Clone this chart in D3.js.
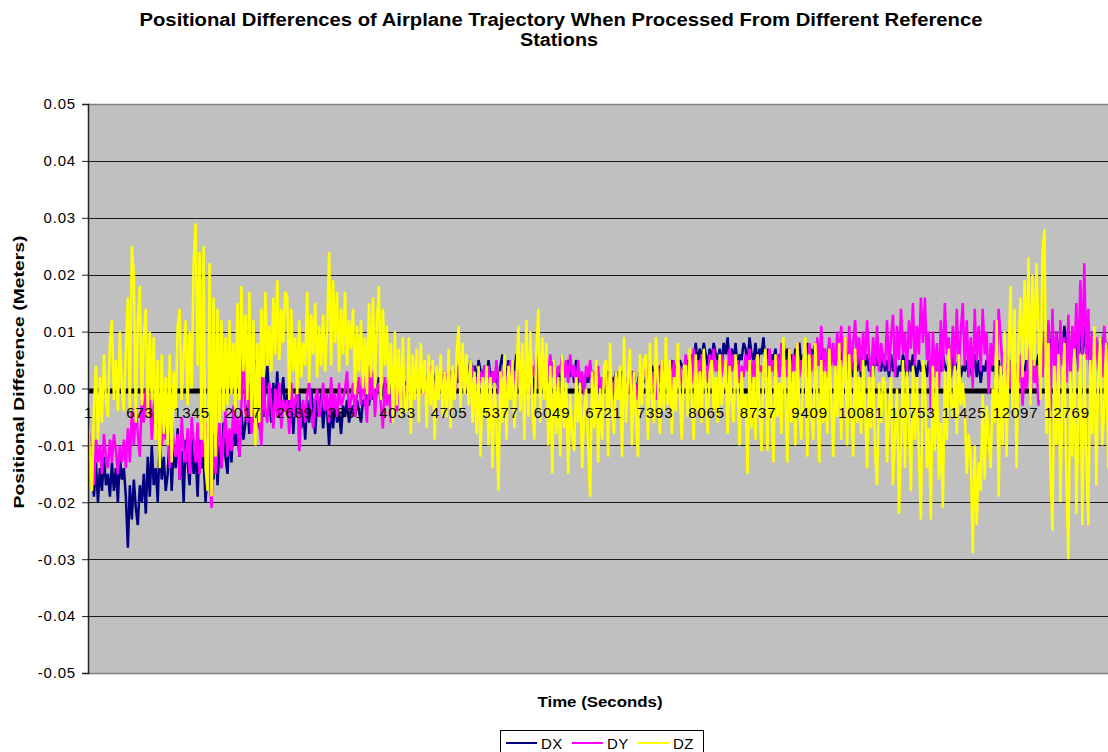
<!DOCTYPE html>
<html>
<head>
<meta charset="utf-8">
<script src="https://cdn.jsdelivr.net/npm/d3@7"></script>
<style>
  html, body { margin: 0; padding: 0; background: #fff; }
  svg { display: block; font-family: "Liberation Sans", Arial, sans-serif; }
</style>
</head>
<body>
<svg id="chart" width="1108" height="752"></svg>
<script>
// ---- data (values in millimetres, one sample every 26 s starting at t = 1) ----
const sampleStart = 1;
const sampleStep = 26;
const seriesNames = ["DX", "DY", "DZ"];
const seriesColors = ["#000080", "#ff00ff", "#ffff00"];
const xTickLabels = ["1","673","1345","2017","2689","3361","4033","4705","5377","6049","6721","7393","8065","8737","9409","10081","10753","11425","12097","12769"];
const yTickValues = [0.05, 0.04, 0.03, 0.02, 0.01, 0, -0.01, -0.02, -0.03, -0.04, -0.05];

const dxMM = [
 -5,-12,-15,-19,-13,-20,-14,-18,-12,-17,-15,-19,-13,-18,-14,-20,-12,-16,-14,-19,
 -28,-17,-23,-16,-21,-24,-17,-20,-15,-22,-12,-19,-10,-17,-14,-20,-9,-16,-12,-18,
 -15,-8,-18,-10,-14,-7,-16,-11,-20,-9,-13,-17,-8,-15,-11,-19,-9,-14,-12,-20,
 -14,8,-12,-16,-8,-17,-10,-14,-6,-12,-15,-8,-13,-5,-10,-7,-12,-4,-9,-6,
 -3,-8,-1,-6,3,-4,-7,2,-5,0,4,-2,-6,1,-3,3,-5,-1,2,-4,
 -1,-6,0,-8,-2,-5,-1,-7,-3,-9,-2,-6,0,-4,-8,-2,-5,-1,-7,-3,
 -4,-10,-3,-7,-2,-6,-4,-8,-3,-5,-2,-6,-4,-3,-5,-2,-4,-6,-2,-3,
 -1,-3,0,-2,1,-1,2,-2,0,1,-1,2,-2,0,1,-1,2,0,-1,1,
 1,-1,2,0,1,3,0,2,1,3,-1,2,0,3,1,2,0,3,1,2,
 2,0,3,1,2,4,1,5,2,4,1,3,5,2,4,1,5,3,2,4,
 1,5,2,3,0,2,1,4,6,3,2,5,1,4,3,6,2,4,1,3,
 2,4,1,3,0,2,4,1,5,2,3,1,4,2,5,1,3,0,4,2,
 3,5,2,4,1,5,3,0,2,-1,3,1,4,2,0,3,1,-1,2,0,
 1,3,0,2,1,3,2,1,3,2,0,2,1,3,2,0,1,3,2,1,
 2,3,1,4,2,3,1,4,2,3,4,2,3,5,2,4,3,5,4,3,
 4,5,3,6,5,8,4,7,5,8,6,4,7,5,8,6,5,7,4,8,
 6,9,4,7,5,8,3,6,5,8,7,4,9,6,5,8,4,7,6,9,
 4,7,3,6,5,7,3,6,4,8,5,7,3,6,4,7,5,8,4,6,
 5,8,4,7,5,8,4,6,5,7,6,4,8,5,7,4,6,8,5,7,
 4,6,3,7,2,5,3,6,2,5,4,6,3,5,2,6,4,5,3,6,
 3,5,2,6,3,5,2,4,3,6,4,2,5,3,6,4,2,5,3,4,
 4,2,5,3,6,4,2,5,3,6,4,3,5,2,6,3,4,5,2,4,
 3,5,2,4,3,6,2,5,1,4,3,5,2,6,3,4,1,5,2,4,
 2,4,3,5,2,4,3,5,2,4,3,5,2,4,3,5,4,6,3,5,
 9,5,11,6,9,4,10,6,8,5,11,7,9,5,10,6,8,4,10,6,
 11,6,9,4,10,6,8,5,9,6,10,5,8,6,11,7,9,5,8,6
];
const dyMM = [
 -5,-11,-14,-17,-9,-13,-10,-15,-8,-12,-14,-9,-13,-8,-11,-15,-10,-13,-9,-14,
 -7,-13,-4,-10,-3,-8,-12,-2,-6,0,-5,-1,-9,-3,-1,-7,-5,-10,-6,-9,
 -6,-14,-4,-10,-12,-8,-16,-5,-11,-13,-7,-15,-5,-9,-13,-6,-15,-9,-12,-8,
 -6,-15,-21,-8,-15,-10,-6,-14,-9,-4,-12,-7,-11,-3,-8,-5,-12,-3,9,-4,
 -6,1,-8,-2,5,-3,-6,-10,2,-4,-6,1,-3,-7,0,-5,1,-7,-2,-4,
 -2,-8,1,-5,-2,0,-11,-4,-2,-6,-1,1,-4,-7,-2,0,-5,-3,1,-4,
 -1,-6,2,-4,-1,-5,1,-3,-2,0,3,-4,-2,1,-5,-1,2,-3,3,-2,
 -6,4,-2,3,-5,0,1,-3,-7,2,-3,1,-6,-1,2,-4,0,-2,1,-3,
 0,3,-1,2,0,4,-2,3,1,-1,2,0,4,1,-2,3,0,2,1,3,
 1,4,0,3,-1,2,4,0,3,1,2,-1,3,4,1,2,0,3,1,4,
 2,4,0,3,1,5,-1,3,2,4,0,2,5,1,3,-1,4,2,3,1,
 1,5,-1,4,2,6,0,5,2,4,1,3,6,2,5,0,4,3,6,2,
 5,1,6,2,4,0,5,1,3,-1,4,2,5,0,3,1,4,-1,2,0,
 2,-1,3,-2,1,2,-1,3,0,2,1,-1,2,0,3,-2,1,2,0,3,
 4,-1,5,0,3,-2,4,1,5,2,3,0,4,-1,5,1,2,4,0,3,
 6,2,4,1,7,2,5,0,6,3,4,1,6,2,7,3,5,1,6,2,
 5,1,7,3,6,2,5,1,4,2,6,3,7,1,5,2,6,3,4,2,
 6,2,7,3,5,1,6,2,8,3,5,2,7,1,6,3,8,2,5,3,
 7,2,8,3,6,1,9,4,11,3,7,2,9,4,8,3,10,5,11,4,
 9,-1,11,3,8,12,4,9,3,10,5,12,6,2,9,4,11,3,8,5,
 4,12,3,9,13,2,11,5,14,6,10,3,12,7,15,4,11,6,16,8,
 16,5,10,-4,10,2,8,0,12,3,15,6,9,2,11,4,14,3,10,15,
 4,12,2,9,0,14,5,11,3,14,6,10,-1,8,4,12,2,14,9,3,
 8,-2,6,0,5,-1,4,1,6,-3,3,0,7,-2,5,1,4,-3,6,2,
 10,2,12,-4,14,3,10,-2,12,4,9,1,13,0,11,5,15,3,19,6,
 22,5,14,2,10,4,9,3,8,2,11,4,7,1,10,3,8,2,9,4
];
const dzMM = [
 -5,-12,-18,-3,4,-9,2,-6,6,-2,-5,8,12,-2,5,-4,10,0,-4,7,
 16,-4,25,20,-6,12,18,-3,9,14,-5,10,-2,9,-9,5,-14,6,-8,2,
 -10,6,-13,3,-4,11,14,-2,6,12,-3,10,0,22,29,4,24,-9,25,-14,
 -18,22,-19,16,-12,14,-6,12,-4,9,-3,12,-1,8,-4,15,-2,18,3,13,
 -2,17,-5,12,-10,8,-6,14,2,17,4,11,3,16,6,19,5,14,8,17,
 16,-2,14,3,9,-1,12,2,8,4,17,1,13,6,15,2,11,4,13,3,
 10,24,4,19,8,17,3,14,6,17,4,12,7,14,-1,11,3,12,0,9,
 -1,15,2,16,0,12,18,-2,14,4,11,-1,8,-6,10,-3,7,-5,9,-4,
 -4,9,-8,6,-2,7,-6,8,-1,5,-7,6,-3,5,-9,4,-2,6,-5,3,
 -5,7,-7,4,-2,6,11,-4,8,-1,6,-3,5,-6,3,-8,4,-12,2,-5,
 4,-10,2,-14,1,-7,-18,3,-6,6,-9,4,-2,5,-7,2,11,-4,8,-9,
 12,-5,10,-3,-9,7,14,-6,9,-2,8,-10,4,-15,5,-8,2,-12,6,-7,
 1,-15,-1,-8,-11,2,-6,1,-14,-4,0,-10,-19,3,-7,5,-13,0,-9,4,
 5,-12,8,-4,-8,3,-2,4,-12,9,-6,2,7,-10,3,-5,-12,6,-3,5,
 6,-9,8,-2,-6,9,1,-8,5,-4,9,-3,5,-8,2,-4,8,-1,-9,4,
 4,-5,7,-2,-9,6,-4,3,-6,7,0,-8,3,5,-4,2,-6,6,-3,1,
 5,-8,4,-2,-6,6,0,-10,3,-5,-1,-15,5,-7,2,-9,6,-3,-11,4,
 7,-11,4,-3,-13,6,-5,1,-8,9,-2,-13,7,-6,3,-10,8,-4,-9,5,
 9,-12,6,-4,-9,8,-1,-13,5,-6,3,-8,7,-2,-12,4,-5,8,-9,2,
 9,-10,6,-3,-12,7,-6,2,-8,5,-4,-14,2,-7,4,-11,-17,1,-6,2,
 1,-13,-4,2,-17,-8,0,-22,-10,5,-14,3,-6,-18,4,-9,2,-12,-23,5,
 2,-14,-7,-23,4,-11,3,-16,-6,-21,3,-9,7,-2,-5,4,-8,6,-3,1,
 -4,-15,-8,-12,-29,-10,-24,-13,-18,-1,-16,-3,-9,-14,0,-6,12,-19,4,-10,
 10,-12,6,18,-4,14,-14,8,16,2,19,5,23,-3,20,4,22,10,-2,24,
 28,-8,8,-14,-25,4,-10,6,-20,-2,8,-16,-30,3,-12,7,-22,-5,6,-24,
 6,-12,-24,5,-8,11,-17,2,9,-10,-3,8,-14,5,-6,-12,6,-8,3,-5
];

// ---- layout ----
const plot = { left: 88, right: 1108, top: 104, bottom: 673 };
const svg = d3.select("#chart");
const FONT = "'Liberation Sans', Arial, sans-serif";

const x = d3.scaleLinear().domain([1, 13310]).range([plot.left, plot.right]);
const y = d3.scaleLinear().domain([-0.05, 0.05]).range([plot.bottom, plot.top]);

// plot background
svg.append("rect")
  .attr("x", plot.left).attr("y", plot.top)
  .attr("width", plot.right - plot.left).attr("height", plot.bottom - plot.top)
  .attr("fill", "#c0c0c0");

// gridlines
svg.append("g").selectAll("line").data(yTickValues.filter(v => v !== 0.05 && v !== -0.05 && v !== 0))
  .join("line")
  .attr("x1", plot.left).attr("x2", plot.right)
  .attr("y1", d => Math.round(y(d)) + 0.5).attr("y2", d => Math.round(y(d)) + 0.5)
  .attr("stroke", "#1a1a1a").attr("stroke-width", 1);

// plot borders
svg.append("line").attr("x1", plot.left).attr("x2", plot.right)
  .attr("y1", plot.top + 0.5).attr("y2", plot.top + 0.5).attr("stroke", "#808080").attr("stroke-width", 1.5);
svg.append("line").attr("x1", plot.left).attr("x2", plot.right)
  .attr("y1", plot.bottom + 0.5).attr("y2", plot.bottom + 0.5).attr("stroke", "#808080").attr("stroke-width", 1.5);

// thick zero (category) axis line, drawn under the series
svg.append("line").attr("x1", plot.left).attr("x2", plot.right)
  .attr("y1", y(0) + 2.5).attr("y2", y(0) + 2.5).attr("stroke", "#000").attr("stroke-width", 5);

// clip
svg.append("clipPath").attr("id", "clip").append("rect")
  .attr("x", plot.left).attr("y", plot.top)
  .attr("width", plot.right - plot.left).attr("height", plot.bottom - plot.top);

const seriesData = [dxMM, dyMM, dzMM];
const line = d3.line()
  .x((d, i) => x(sampleStart + i * sampleStep))
  .y(d => y(d / 1000));

const gSeries = svg.append("g").attr("clip-path", "url(#clip)");
seriesData.forEach((arr, k) => {
  gSeries.append("path")
    .datum(arr)
    .attr("d", line)
    .attr("fill", "none")
    .attr("stroke", seriesColors[k])
    .attr("stroke-width", 2.5)
    .attr("stroke-linejoin", "bevel");
});

// y axis
const yAxis = d3.axisLeft(y).tickValues(yTickValues)
  .tickFormat(d => d.toFixed(2)).tickSize(6).tickPadding(6);
const gy = svg.append("g").attr("transform", `translate(${plot.left},0)`).call(yAxis);
gy.select(".domain").attr("stroke", "#222").attr("stroke-width", 1.5);
gy.selectAll(".tick line").attr("stroke", "#222");
gy.selectAll(".tick text").attr("font-size", 15).attr("fill", "#000")
  .attr("font-family", FONT).attr("letter-spacing", 0.8);

// category labels along the zero line (drawn above the series)
const xAxis = d3.axisBottom(x).tickValues(xTickLabels.map(Number))
  .tickFormat((d, i) => xTickLabels[i]).tickSize(0).tickPadding(19);
const gx = svg.append("g").attr("transform", `translate(0,${y(0)})`).call(xAxis);
gx.select(".domain").remove();
gx.selectAll(".tick text").attr("font-size", 15).attr("fill", "#000")
  .attr("font-family", FONT).attr("letter-spacing", 0.8);

// title
const title = svg.append("text").attr("text-anchor", "middle")
  .attr("font-weight", "bold").attr("font-size", 17.5).attr("font-family", FONT);
title.append("tspan").attr("x", 561).attr("y", 26)
  .attr("textLength", 843).attr("lengthAdjust", "spacingAndGlyphs")
  .text("Positional Differences of Airplane Trajectory When Processed From Different Reference");
title.append("tspan").attr("x", 559).attr("y", 46)
  .attr("textLength", 78).attr("lengthAdjust", "spacingAndGlyphs").text("Stations");

// axis titles
svg.append("text").attr("x", 600).attr("y", 707).attr("text-anchor", "middle")
  .attr("font-weight", "bold").attr("font-size", 14.5).attr("font-family", FONT)
  .attr("textLength", 125).attr("lengthAdjust", "spacingAndGlyphs").text("Time (Seconds)");
svg.append("text").attr("transform", "translate(24,372) rotate(-90)").attr("text-anchor", "middle")
  .attr("font-weight", "bold").attr("font-size", 14.5).attr("font-family", FONT)
  .attr("textLength", 273).attr("lengthAdjust", "spacingAndGlyphs").text("Positional Difference (Meters)");

// legend
const legend = svg.append("g");
legend.append("rect").attr("x", 500.5).attr("y", 730.5).attr("width", 203).attr("height", 30)
  .attr("fill", "#fff").attr("stroke", "#000").attr("stroke-width", 1);
const legendX = [506, 572, 638];
seriesNames.forEach((name, k) => {
  legend.append("line").attr("x1", legendX[k]).attr("x2", legendX[k] + 31)
    .attr("y1", 743).attr("y2", 743).attr("stroke", seriesColors[k]).attr("stroke-width", 2);
  legend.append("text").attr("x", legendX[k] + 35).attr("y", 749)
    .attr("font-size", 15).attr("font-family", FONT).attr("letter-spacing", 0.5).text(name);
});
</script>
</body>
</html>
